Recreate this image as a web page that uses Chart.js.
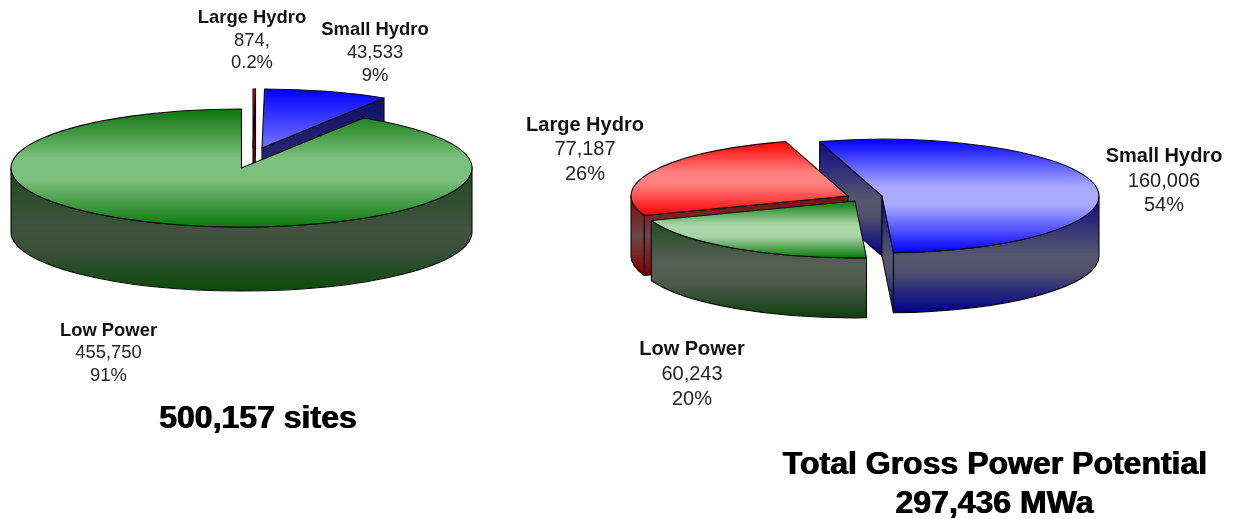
<!DOCTYPE html>
<html>
<head>
<meta charset="utf-8">
<script src="https://cdn.jsdelivr.net/npm/chart.js@4/dist/chart.umd.js"></script>
<style>
html,body{margin:0;padding:0;background:#fff;width:1233px;height:519px;overflow:hidden}
canvas{position:absolute;left:0;top:0}
.lbl{position:absolute;transform:translate(-50%,-50%);font-family:"Liberation Sans",Arial,sans-serif;color:#222;text-align:center;white-space:nowrap}
.lbl b{color:#111}
.ttl{position:absolute;transform:translate(-50%,-50%);font:bold 32px "Liberation Sans",Arial,sans-serif;color:#000;white-space:nowrap;text-shadow:1px 0 0 #000}
</style>
</head>
<body>
<canvas id="sites" width="1233" height="519"></canvas>
<canvas id="power" width="1233" height="519"></canvas>
<script>
// ---- data ----
const siteCategories = ['Large Hydro', 'Small Hydro', 'Low Power'];
const siteValues = [874, 43533, 455750];
const siteValueLabels = ['874,', '43,533', '455,750'];
const sitePercents = ['0.2%', '9%', '91%'];
const siteTitle = ['500,157 sites'];

const powerCategories = ['Small Hydro', 'Low Power', 'Large Hydro'];
const powerValues = [160006, 60243, 77187];
const powerValueLabels = ['160,006', '60,243', '77,187'];
const powerPercents = ['54%', '20%', '26%'];
const powerTitle = ['Total Gross Power Potential', '297,436 MWa'];

// ---- look ----
const RED = {top:[[0,'#ff0000'],[.42,'#ff8080'],[.58,'#ff8080'],[1,'#ff0000']], side:[[0,'#7c0a0a'],[.5,'#6e4646'],[1,'#800000']]};
const BLUE_R = {top:[[0,'#0000ff'],[.42,'#aaaaff'],[.58,'#aaaaff'],[1,'#0000ff']], side:[[0,'#0a0a88'],[.5,'#56566e'],[.65,'#50506e'],[1,'#00008b']]};
const GREEN_R = {top:[[0,'#0a7a0a'],[.42,'#a9d5a9'],[.62,'#a9d5a9'],[1,'#0a7a0a']], side:[[0,'#234a23'],[.45,'#566056'],[.65,'#4c5a4c'],[1,'#0f3f0f']]};
const BLUE_L = {top:[[0,'#0000ff'],[1,'#7474ff']], side:[[0,'#10106e'],[1,'#3a3a6e']]};
const RED_L = {top:[[0,'#ff0000'],[1,'#e00000']], side:[[0,'#8a0000'],[1,'#6a0000']]};
const GREEN_L = {top:[[0,'#0e730e'],[.42,'#7cc07e'],[.6,'#7cc07e'],[1,'#0d780d']], side:[[0,'#1f4a1f'],[.5,'#40533f'],[.68,'#3a4f3a'],[1,'#0a4a0a']]};

function grad(ctx, y0, y1, stops){
  const g = ctx.createLinearGradient(0, y0, 0, y1);
  stops.forEach(s => g.addColorStop(s[0], s[1]));
  return g;
}
// y-extent of a slice relative to its vertex, as a fraction of the radius
function yExtent(s, e){
  let lo = Math.min(0, Math.sin(s), Math.sin(e)), hi = Math.max(0, Math.sin(s), Math.sin(e));
  for (let k = -2; k <= 2; k++){
    const up = -Math.PI/2 + 2*Math.PI*k, dn = Math.PI/2 + 2*Math.PI*k;
    if (up > s && up < e) lo = -1;
    if (dn > s && dn < e) hi = 1;
  }
  return [lo, hi];
}
function sliceAngles(values, i, rotationDeg){
  const total = values.reduce((a,b)=>a+b,0);
  let a = -Math.PI/2 + rotationDeg*Math.PI/180;
  for (let k = 0; k < i; k++) a += values[k]/total*2*Math.PI;
  return [a, a + values[i]/total*2*Math.PI];
}

const pie3d = {
  id: 'pie3d',
  beforeDatasetsDraw(chart, args, o){
    const ctx = chart.ctx, arcs = chart.getDatasetMeta(0).data;
    o.order.forEach(i => {
      const arc = arcs[i], R = arc.outerRadius, ry = R*o.squash, D = o.depth;
      const s = arc.startAngle, e = arc.endAngle, cx = o.centers[i][0], cy = o.centers[i][1];
      const st = o.styles[i];
      ctx.save();
      ctx.lineWidth = 1.1; ctx.strokeStyle = '#0a0a0a'; ctx.lineJoin = 'round';
      const face = (a) => {
        const px = cx + R*Math.cos(a), py = cy + ry*Math.sin(a);
        ctx.beginPath(); ctx.moveTo(cx,cy); ctx.lineTo(px,py); ctx.lineTo(px,py+D); ctx.lineTo(cx,cy+D); ctx.closePath();
        ctx.fillStyle = grad(ctx, Math.min(cy,py), Math.max(cy,py)+D, st.side);
        ctx.fill(); ctx.stroke();
      };
      // cut faces that turn toward the viewer
      if (-Math.cos(s) > 0) face(s);
      if (Math.cos(e) > 0) face(e);
      // outer wall, front half only
      for (let k = -1; k <= 1; k++){
        const a = Math.max(s, 2*Math.PI*k), b = Math.min(e, Math.PI + 2*Math.PI*k);
        if (b <= a) continue;
        const yTop = Math.min(cy+ry*Math.sin(a), cy+ry*Math.sin(b));
        const mid = (a < Math.PI/2+2*Math.PI*k && b > Math.PI/2+2*Math.PI*k) ? cy+ry : Math.max(cy+ry*Math.sin(a), cy+ry*Math.sin(b));
        ctx.beginPath();
        ctx.ellipse(cx, cy, R, ry, 0, a, b);
        ctx.ellipse(cx, cy+D, R, ry, 0, b, a, true);
        ctx.closePath();
        ctx.fillStyle = grad(ctx, yTop, mid+D, st.side);
        ctx.fill(); ctx.stroke();
      }
      ctx.restore();
      // top surface: the library's own arc element under a squashed transform
      ctx.save();
      ctx.translate(cx, cy);
      ctx.scale(1, o.squash);
      ctx.translate(-arc.x, -arc.y);
      arc.draw(ctx);
      ctx.restore();
      // outline in screen space
      ctx.save();
      ctx.lineWidth = 1.1; ctx.strokeStyle = '#0a0a0a'; ctx.lineJoin = 'round';
      ctx.beginPath();
      ctx.moveTo(cx, cy);
      ctx.ellipse(cx, cy, R, ry, 0, s, e);
      ctx.closePath();
      ctx.stroke();
      ctx.restore();
    });
    return false;
  }
};

function makePie(id, labels, values, rotation, radius, squash, depth, order, centers, styles){
  new Chart(document.getElementById(id), {
    type: 'pie',
    data: { labels, datasets: [{
      data: values,
      borderWidth: 0,
      backgroundColor: (c) => {
        if (c.dataIndex === undefined || !c.chart.chartArea) return '#888';
        const [s, e] = sliceAngles(values, c.dataIndex, rotation);
        const [lo, hi] = yExtent(s, e);
        const a = c.chart.chartArea, my = a.top + a.height/2;
        return grad(c.chart.ctx, my + lo*radius, my + hi*radius, styles[c.dataIndex].top);
      }
    }]},
    options: {
      responsive: false, animation: false, devicePixelRatio: 1,
      radius, rotation,
      layout: { padding: 0 },
      events: [],
      plugins: { legend: {display:false}, tooltip: {enabled:false},
        pie3d: { squash, depth, order, centers, styles } }
    },
    plugins: [pie3d]
  });
}

makePie('sites', siteCategories, siteValues, 0, 230.5, 0.256, 64, [0,1,2],
  [[253,148],[262,148],[241.5,168]], [RED_L, BLUE_L, GREEN_L]);
makePie('power', powerCategories, powerValues, -16.7, 217, 0.262, 60, [0,2,1],
  [[882,196],[855,201],[848,196]], [BLUE_R, GREEN_R, RED]);

// ---- text ----
function addLabel(x, ys, size, name, val, pct){
  [[name,true],[val,false],[pct,false]].forEach((t, i) => {
    const d = document.createElement('div');
    d.className = 'lbl';
    d.style.left = x+'px'; d.style.top = ys[i]+'px'; d.style.fontSize = size+'px';
    if (t[1]) { const b = document.createElement('b'); b.textContent = t[0]; d.appendChild(b); }
    else d.textContent = t[0];
    document.body.appendChild(d);
  });
}
const siteLabelPos = [[252,[17,40,62]],[375,[29,52,75]],[108.5,[330,352,375]]];
const powerLabelPos = [[1164,[155,180,204]],[692,[348,373,398]],[585,[124,148,173]]];
siteCategories.forEach((n,i)=>addLabel(siteLabelPos[i][0], siteLabelPos[i][1], 18.4, n, siteValueLabels[i], sitePercents[i]));
powerCategories.forEach((n,i)=>addLabel(powerLabelPos[i][0], powerLabelPos[i][1], 20, n, powerValueLabels[i], powerPercents[i]));
function addTitle(x,y,t){ const d=document.createElement('div'); d.className='ttl'; d.style.left=x+'px'; d.style.top=y+'px'; d.textContent=t; document.body.appendChild(d); }
addTitle(257.5,417,siteTitle[0]);
addTitle(994.5,463,powerTitle[0]);
addTitle(994,502,powerTitle[1]);
</script>
</body>
</html>
